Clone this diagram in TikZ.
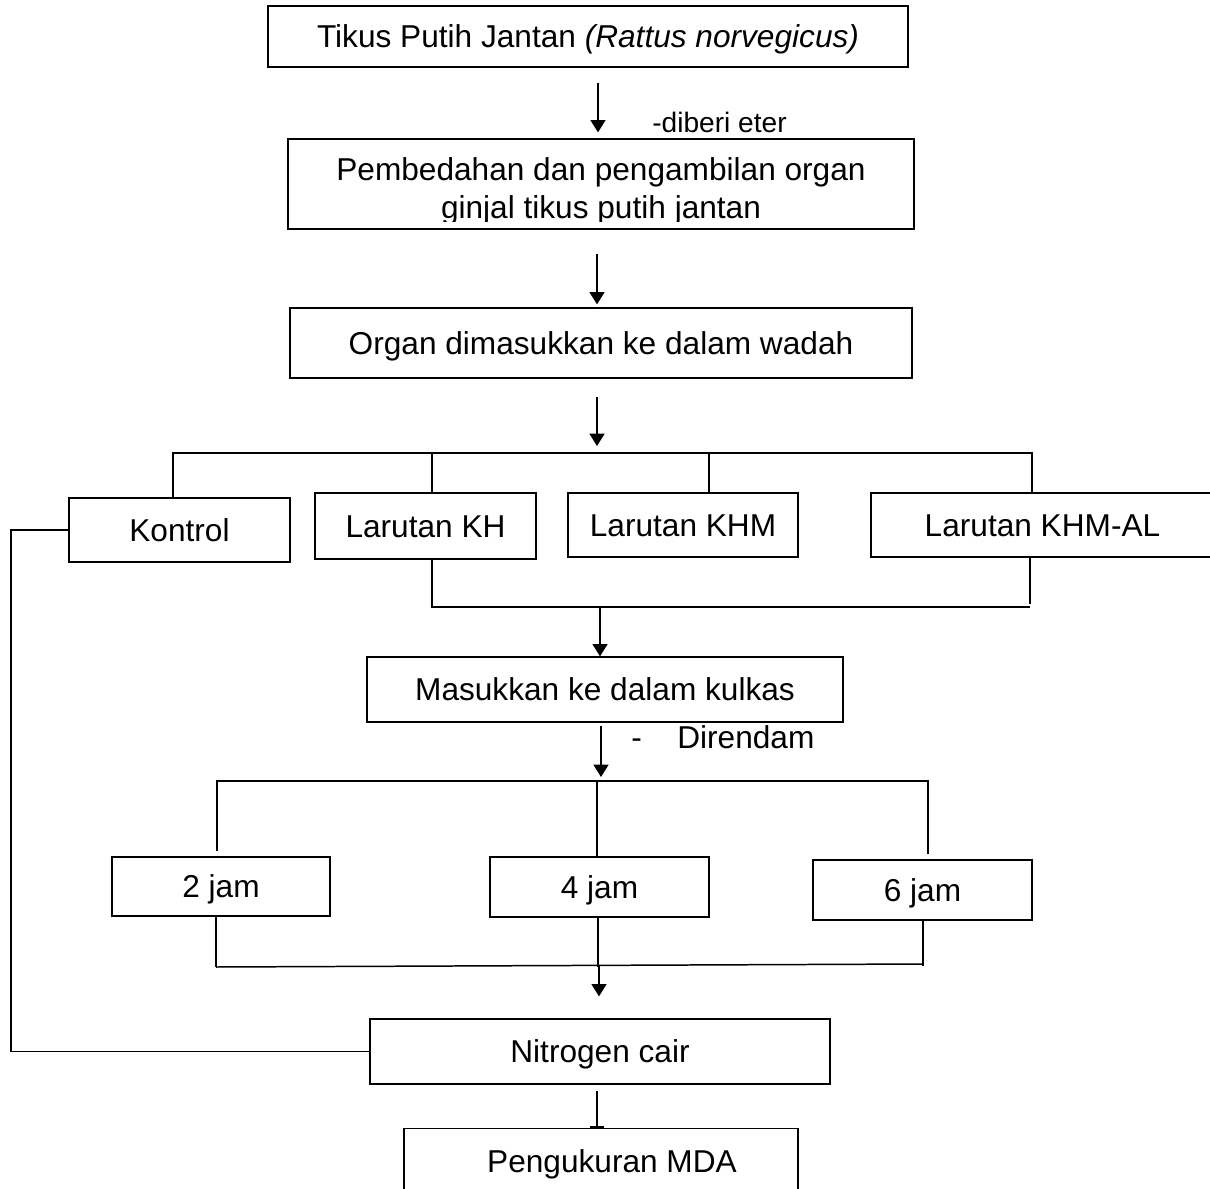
\documentclass[tikz,border=0pt]{standalone}
\usepackage{fontspec}
\setmainfont{Liberation Sans}
\usetikzlibrary{arrows.meta}
\newlength\pxu \setlength\pxu{0.02cm}
\begin{document}
\begin{tikzpicture}[x=0.02cm,y=-0.02cm,
  box/.style={draw, line width=0.7pt, inner sep=0pt, text height=12.9pt, text depth=0pt,
              font=\fontsize{18}{21.6}\selectfont},
  txt/.style={inner sep=0pt, font=\fontsize{18}{21.6}\selectfont},
  ln/.style={line width=0.85pt},
  arr/.style={line width=0.85pt, -{Triangle[width=8.5pt,length=7pt]}},
  barr/.style={line width=0.85pt, -{Rectangle[width=8.5pt,length=1.3pt]}}]
\useasboundingbox (0,0) rectangle (1210,1189);

% boxes
\node[box, minimum width=640\pxu, minimum height=61\pxu] (b1) at (588,36.5)
  {Tikus Putih Jantan \textit{(Rattus norvegicus)}};
\node[box, minimum width=626\pxu, minimum height=90\pxu] (b2) at (601,184) {};
\begin{scope}
  \clip (289,140) rectangle (913,222);
  \node[txt, anchor=base] (b2a) at (601,181) {Pembedahan dan pengambilan organ};
  \node[txt, anchor=base] (b2b) at (601,219) {ginjal tikus putih jantan};
\end{scope}
\node[box, minimum width=622\pxu, minimum height=70\pxu] (b3) at (601,343)
  {Organ dimasukkan ke dalam wadah};

\node[box, minimum width=221\pxu, minimum height=64\pxu] (kontrol) at (179.5,530) {Kontrol};
\node[box, minimum width=221\pxu, minimum height=66\pxu] (kh) at (425.5,526) {Larutan KH};
\node[box, minimum width=230\pxu, minimum height=64\pxu] (khm) at (683,525) {Larutan KHM};
\node[box, minimum width=343\pxu, minimum height=64\pxu] (khmal) at (1042.5,525) {Larutan KHM-AL};

\node[box, minimum width=476\pxu, minimum height=65\pxu] (masuk) at (605,689.5)
  {Masukkan ke dalam kulkas};

\node[box, minimum width=218\pxu, minimum height=59\pxu] (j2) at (221,886.5) {2 jam};
\node[box, minimum width=219\pxu, minimum height=60\pxu] (j4) at (599.5,887) {4 jam};
\node[box, minimum width=219\pxu, minimum height=60\pxu] (j6) at (922.5,890) {6 jam};

\node[box, minimum width=460\pxu, minimum height=65\pxu] (nit) at (600,1051.5) {Nitrogen cair};
\node[box, minimum width=394\pxu, minimum height=120\pxu, anchor=north] (peng) at (601,1128) {};
\node[txt, text height=12.9pt, text depth=0pt] (pengt) at (612,1161) {Pengukuran MDA};

% labels
\node[txt, anchor=base west, font=\fontsize{16}{19}\selectfont] (lbl1) at (652,133) {-diberi eter};
\node[txt, anchor=base west] (lbl2a) at (631,748) {-};
\node[txt, anchor=base west] (lbl2b) at (677,748) {Direndam};

% junction coordinates
\coordinate (s1L) at (173,453);
\coordinate (s1R) at (1032,453);
\coordinate (s1M) at (597,453);
\coordinate (m1L) at (432,607);
\coordinate (m1R) at (1030,607);
\coordinate (m1M) at (600,607);
\coordinate (s2L) at (217,781);
\coordinate (s2R) at (928,781);
\coordinate (s2M) at (601,781);
\coordinate (m2L) at (216,967);
\coordinate (m2R) at (923,964);
\coordinate (m2M) at (599,966);
\coordinate (kc) at (11,530);

% arrows
\draw[arr] ([xshift=10\pxu,yshift=-15\pxu]b1.south) -- ([xshift=-3\pxu,yshift=6\pxu]b2.north);
\draw[arr] ([xshift=-4\pxu,yshift=-24\pxu]b2.south) -- ([xshift=-4\pxu,yshift=3\pxu]b3.north);
\draw[arr] ([xshift=-4\pxu,yshift=-18\pxu]b3.south) -- ([yshift=7\pxu]s1M);

% first split
\draw[ln] (s1L) -- (s1R);
\draw[ln] ([xshift=-6.5\pxu]kontrol.north) -- ++(0,-45);
\draw[ln] ([xshift=6.5\pxu]kh.north) -- ++(0,-40);
\draw[ln] ([xshift=26\pxu]khm.north) -- ++(0,-40);
\draw[ln] ([xshift=-10.5\pxu,yshift=-2\pxu]khmal.north) -- ++(0,-42);

% first merge
\draw[ln] ([xshift=6.5\pxu]kh.south) -- ++(0,48);
\draw[ln] ([xshift=-12.5\pxu]khmal.south) -- ++(0,46);
\draw[ln] (m1L) -- (m1R);
\draw[arr] (m1M) -- ([xshift=-5\pxu]masuk.north);

\draw[arr] ([xshift=-4\pxu,yshift=-3\pxu]masuk.south) -- ([yshift=4\pxu]s2M);

% second split
\draw[ln] (s2L) -- (s2R);
\draw[ln] ([xshift=-4\pxu,yshift=5\pxu]j2.north) -- ++(0,-71);
\draw[ln] ([xshift=-2.5\pxu]j4.north) -- ++(0,-76);
\draw[ln] ([xshift=5.5\pxu,yshift=5\pxu]j6.north) -- ++(0,-74);

% second merge
\draw[ln] ([xshift=-5\pxu]j2.south) -- ++(0,50);
\draw[ln] ([xshift=-1.5\pxu]j4.south) -- ++(0,49);
\draw[ln] ([xshift=0.5\pxu]j6.south) -- ++(0,45);
\draw[ln] (m2L) -- (m2R);
\draw[arr] (m2M) -- ([xshift=-1\pxu,yshift=22\pxu]nit.north);

% control bypass
\draw[ln] (kontrol.west) -- (kc) |- (nit.west);

% last
\draw[barr] ([xshift=-3\pxu,yshift=-6\pxu]nit.south) -- ([xshift=-4\pxu]peng.north);
\end{tikzpicture}
\end{document}
